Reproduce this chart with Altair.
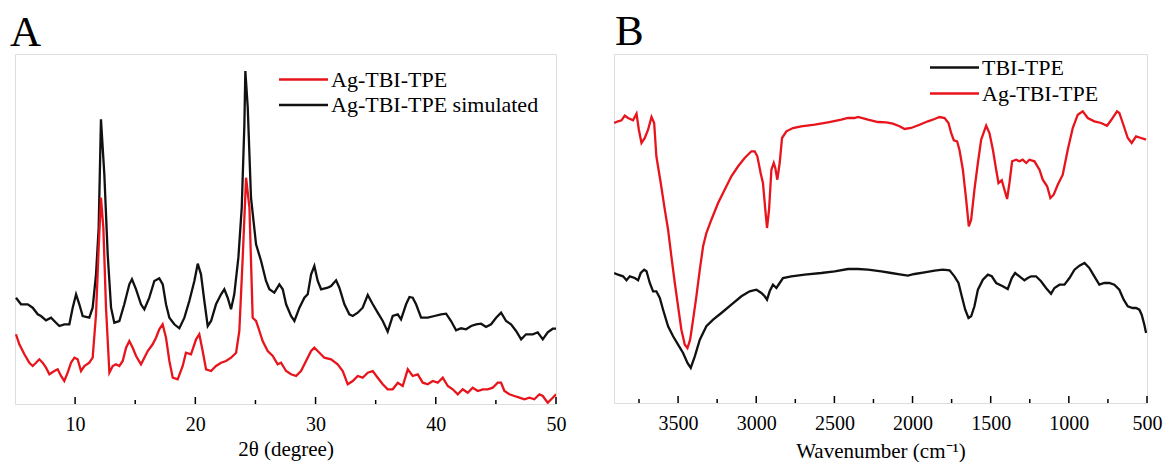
import altair as alt
import pandas as pd

FONT = "Liberation Serif"
RED = "#e8141c"
BLACK = "#111111"

# ---------------- Panel A : XRD ----------------
a_sim_2theta = [5.08, 5.5, 6.06, 6.47, 6.89, 7.16, 7.58, 8.0, 8.41, 8.69, 9.1, 9.52, 9.8, 10.08, 10.35,
                10.63, 11.18, 11.46, 11.74, 11.96, 12.15, 12.43, 12.71, 12.99, 13.26, 13.68, 14.09, 14.51,
                14.73, 15.07, 15.48, 15.76, 16.17, 16.59, 17.0, 17.29, 17.56, 17.84, 18.25, 18.67, 19.09,
                19.5, 19.92, 20.2, 20.47, 20.75, 21.03, 21.31, 21.72, 22.14, 22.41, 22.69, 22.97, 23.24,
                23.58, 23.86, 24.08, 24.16, 24.36, 24.63, 25.05, 25.47, 25.88, 26.16, 26.57, 26.99, 27.27,
                27.55, 27.96, 28.24, 28.66, 29.07, 29.35, 29.63, 29.9, 30.18, 30.46, 31.01, 31.29, 31.71,
                31.98, 32.4, 32.81, 33.09, 33.51, 33.92, 34.34, 34.76, 35.17, 35.59, 36.0, 36.42, 36.84,
                37.11, 37.53, 37.81, 38.08, 38.36, 38.78, 39.33, 39.89, 40.44, 40.86, 41.27, 41.69, 42.1,
                42.52, 42.94, 43.35, 43.77, 44.18, 44.6, 45.02, 45.43, 45.85, 46.26, 46.68, 47.1, 47.51,
                48.07, 48.48, 48.9, 49.31, 49.73, 50.0]
a_sim_int = [106.3, 99.7, 99.7, 96.3, 89.7, 88, 83.7, 86.3, 81.3, 78, 79.7, 79.7, 96.3, 109.7, 99.7,
             88, 86.3, 96.3, 129.7, 176.3, 284.7, 229.7, 149.7, 96.3, 81.3, 83, 99.7, 119.7,
             124.7, 114.7, 99.7, 94.7, 106.3, 123, 125.7, 119.7, 99.7, 86.3, 79.7, 75.7, 86.3,
             103, 123, 140.3, 129.7, 103, 78, 83, 99.7, 109.7, 114.7, 106.3, 94.7, 109.7,
             146.3, 196.3, 279.7, 333, 296.3, 206.3, 159.7, 143, 123, 114.7, 111.3, 119.7, 114.7,
             99.7, 88, 83, 96.3, 106.3, 109.7, 129.7, 138, 123, 114.7, 116.3, 118, 123.7,
             116.3, 99.7, 89.7, 88, 91.3, 96.3, 109, 99.7, 91.3, 83, 72.3, 88, 89.7,
             84.7, 99.7, 107, 106.3, 99.7, 86.3, 86.3, 88, 89.7, 90.3, 83, 73.7, 75.7,
             74.7, 78, 79.7, 80.3, 77, 79.7, 86.3, 91.3, 83, 79.7, 73, 64.7, 69.7,
             69.7, 71.7, 64.7, 71.7, 75.3, 75.3]

a_exp_2theta = [5.08, 5.36, 5.78, 6.19, 6.47, 6.75, 7.02, 7.3, 7.58, 7.86, 8.27, 8.55, 8.83, 9.1, 9.38,
                9.66, 9.94, 10.21, 10.49, 10.77, 11.18, 11.46, 11.74, 11.96, 12.15, 12.35, 12.57, 12.85,
                13.13, 13.4, 13.68, 13.96, 14.24, 14.51, 14.79, 15.07, 15.48, 15.76, 16.04, 16.45, 16.73,
                17.0, 17.28, 17.56, 17.84, 18.12, 18.53, 18.95, 19.22, 19.64, 20.06, 20.33, 20.61, 20.89,
                21.31, 21.72, 22.14, 22.55, 22.97, 23.39, 23.66, 23.94, 24.22, 24.5, 24.77, 25.05, 25.33,
                25.6, 26.02, 26.44, 26.85, 27.13, 27.55, 27.96, 28.38, 28.79, 29.21, 29.63, 29.9, 30.32,
                30.73, 31.29, 31.84, 32.26, 32.68, 33.09, 33.51, 33.92, 34.34, 34.76, 35.17, 35.59, 36.0,
                36.42, 36.84, 37.25, 37.67, 38.08, 38.5, 38.92, 39.33, 39.75, 40.16, 40.58, 41.0, 41.41,
                41.83, 42.24, 42.66, 43.07, 43.49, 43.91, 44.32, 44.74, 45.15, 45.43, 45.71, 46.12, 46.54,
                46.96, 47.37, 47.79, 48.2, 48.62, 48.9, 49.31, 49.73, 50.0]
a_exp_int = [69.7, 59.7, 49.7, 41.3, 38, 41.3, 44.7, 41.3, 36.3, 29.7, 33, 34.7, 28, 23, 31.3,
             41.3, 46.3, 44.7, 33, 38, 41.3, 46.3, 89.7, 156.3, 206.3, 176.3, 96.3, 31.3,
             38, 39.7, 38, 43, 56.3, 63, 56.3, 48, 39.7, 46.3, 53, 59.7, 66.3,
             74.7, 79.7, 66.3, 43, 26.3, 24.7, 38, 51.3, 49.7, 64.7, 69.7, 53, 34.7,
             33, 38, 41.3, 43, 46.3, 51.3, 73, 146.3, 226.3, 196.3, 86.3, 83, 73,
             63, 53, 48, 39.7, 41.3, 33, 29.7, 28, 33, 43, 53, 56.3, 51.3,
             46.3, 44.7, 39.7, 33, 19.7, 23, 28, 26.3, 31.3, 33, 26.3, 19.7, 14.7,
             14.7, 21.3, 18, 34.7, 28, 29.7, 21.3, 19.7, 23, 21.3, 26.3, 18, 14.7,
             9.7, 14.7, 11.3, 16.3, 13, 14.7, 14.7, 16.3, 21.3, 21.3, 13, 9.7, 8,
             6.3, 4.7, 6.3, 4.7, 9.7, 8, 1.3, 6.3, 9.7]

a_series = ["Ag-TBI-TPE", "Ag-TBI-TPE simulated"]
a_major = [10, 20, 30, 40, 50]
a_minor = [15, 25, 35, 45]

# ---------------- Panel B : FTIR ----------------
b_tbi_wn = [3909, 3884, 3852, 3830, 3809, 3777, 3756, 3739, 3717, 3702, 3681, 3660, 3639, 3617, 3596,
            3564, 3532, 3500, 3468, 3440, 3419, 3393, 3361, 3319, 3276, 3223, 3159, 3095, 3042, 2999,
            2967, 2946, 2931, 2914, 2893, 2871, 2850, 2829, 2775, 2690, 2584, 2498, 2413, 2349, 2285,
            2200, 2136, 2072, 2030, 1987, 1923, 1859, 1806, 1763, 1732, 1706, 1685, 1663, 1642, 1625,
            1604, 1582, 1550, 1518, 1493, 1465, 1423, 1391, 1365, 1344, 1316, 1284, 1263, 1241, 1210,
            1178, 1146, 1114, 1092, 1060, 1028, 996, 964, 932, 900, 869, 837, 805, 773, 741,
            709, 677, 649, 623, 592, 570, 549, 534, 517, 506]
b_tbi_T = [130, 128.3, 126.7, 122.7, 126.7, 125, 122.7, 130, 133.3, 131.7, 120, 111.7, 111.7, 105, 93.3,
           76.7, 66.7, 58.3, 50, 40, 35, 46.7, 63.3, 76.7, 83.3, 90, 98.3, 106.7, 111.7, 113.3,
           110, 106.7, 103.3, 111.7, 118.3, 115, 120, 125, 126.7, 128.3, 130, 131.7, 134, 134, 133.3,
           131.7, 130, 128.3, 127.3, 129, 130.7, 132.3, 133.3, 132.7, 126.7, 120, 106.7, 93.3, 85, 86.7,
           96.7, 113.3, 123.3, 128.3, 126.7, 120, 116.7, 114, 125, 130, 126.7, 122.7, 125, 126.7, 126.7,
           121.7, 115, 109.3, 115, 118.3, 118.3, 125, 133.3, 137.3, 140, 135, 126.7, 118.3, 120, 120,
           118.3, 113.3, 103.3, 96.7, 95, 95, 93.3, 88.3, 78.3, 70]

b_ag_wn = [3909, 3884, 3862, 3841, 3820, 3788, 3766, 3751, 3734, 3713, 3692, 3670, 3653, 3639, 3611,
           3585, 3564, 3543, 3521, 3500, 3479, 3457, 3440, 3423, 3404, 3383, 3361, 3340, 3319, 3287,
           3244, 3202, 3159, 3116, 3074, 3031, 3010, 2993, 2972, 2957, 2942, 2931, 2918, 2903, 2888,
           2878, 2865, 2850, 2835, 2807, 2765, 2712, 2626, 2541, 2456, 2413, 2371, 2349, 2285, 2221,
           2168, 2126, 2083, 2051, 2009, 1955, 1902, 1859, 1827, 1795, 1770, 1753, 1736, 1715, 1700,
           1678, 1657, 1640, 1625, 1604, 1582, 1561, 1529, 1508, 1486, 1465, 1450, 1429, 1412, 1395,
           1380, 1363, 1337, 1316, 1295, 1273, 1252, 1220, 1188, 1167, 1139, 1118, 1097, 1071, 1039,
           1007, 975, 943, 911, 879, 837, 794, 756, 730, 692, 677, 655, 623, 598, 570,
           538, 506]
b_ag_T = [280, 281.7, 282.7, 287.3, 285, 282.7, 289.3, 273.3, 260, 265, 273.3, 286, 280, 246.7, 220,
          193.3, 173.3, 146.7, 120, 96.7, 73.3, 58.3, 55, 63.3, 83.3, 106.7, 133.3, 156.7, 170, 183.3,
          200, 213.3, 226.7, 236.7, 245, 251.7, 251.7, 246.7, 230, 220, 193.3, 175, 193.3, 233.3, 240,
          235, 223.3, 240, 265, 271.7, 275, 276.7, 278.3, 280.7, 283.3, 285, 285, 286, 283.3, 281,
          280.7, 279.3, 276.7, 274, 275, 278.3, 281.7, 284, 286, 285, 280, 270, 262.7, 261.7, 253.3,
          233.3, 203.3, 176.7, 183.3, 213.3, 240, 263.3, 277.3, 270, 253.3, 233.3, 220, 222.7, 213.3, 204,
          220, 241.7, 243.3, 241.7, 243.3, 240, 243.3, 241.7, 233.3, 223.3, 216.7, 205, 208.3, 218.3, 228.3,
          253.3, 275, 288.3, 291.7, 285, 281.7, 280, 277.3, 282.7, 291.7, 290, 280, 265, 260, 266.7,
          265, 263.3]

b_series = ["TBI-TPE", "Ag-TBI-TPE"]
b_major = [3500, 3000, 2500, 2000, 1500, 1000, 500]
b_minor = [3750, 3250, 2750, 2250, 1750, 1250, 750]

A_W, A_H = 541, 350
B_W, B_H = 533, 349

dfA = pd.concat([
    pd.DataFrame({"x": a_sim_2theta, "y": a_sim_int, "s": a_series[1]}),
    pd.DataFrame({"x": a_exp_2theta, "y": a_exp_int, "s": a_series[0]}),
], ignore_index=True)
dfB = pd.concat([
    pd.DataFrame({"x": b_tbi_wn, "y": b_tbi_T, "s": b_series[0]}),
    pd.DataFrame({"x": b_ag_wn, "y": b_ag_T, "s": b_series[1]}),
], ignore_index=True)


def panel(df, series, colors, xdomain, ydomain, major, minor, xtitle, title_pad,
          letter, letter_dx, letter_off, W, H, lx, ly, row_pad):
    xscale = alt.Scale(domain=xdomain, nice=False, zero=False)
    lines = alt.Chart(df).mark_line(strokeWidth=2.3, clip=True).encode(
        x=alt.X("x:Q", scale=xscale,
                axis=alt.Axis(values=major, format="d", ticks=False, domain=False, grid=False,
                              labelFont=FONT, labelFontSize=20, labelColor="black",
                              labelPadding=10, labelFlush=False, labelOverlap=False,
                              title=xtitle, titleFont=FONT, titleFontSize=21,
                              titleFontWeight="normal", titleColor="black",
                              titlePadding=title_pad)),
        y=alt.Y("y:Q", scale=alt.Scale(domain=ydomain, nice=False, zero=False), axis=None),
        color=alt.Color("s:N", scale=alt.Scale(domain=series, range=colors),
                        legend=alt.Legend(title=None, orient="none", legendX=lx, legendY=ly,
                                          symbolType="M-2,0H2", symbolSize=600,
                                          symbolStrokeWidth=2.3, labelFont=FONT,
                                          labelFontSize=22, labelColor="black",
                                          labelLimit=400,
                                          labelOffset=14, rowPadding=row_pad, padding=0)),
        detail="s:N",
    )
    major_t = alt.Chart(pd.DataFrame({"x": major})).mark_rule(color="black", strokeWidth=1.5).encode(
        x=alt.X("x:Q", scale=xscale), y=alt.value(H - 7), y2=alt.value(H))
    minor_t = alt.Chart(pd.DataFrame({"x": minor})).mark_rule(color="black", strokeWidth=1.5).encode(
        x=alt.X("x:Q", scale=xscale), y=alt.value(H - 4), y2=alt.value(H))
    return alt.layer(lines, major_t, minor_t).properties(
        width=W, height=H,
        title=alt.TitleParams(text=letter, anchor="start", frame="group", font=FONT,
                              fontSize=43, fontWeight="normal", color="black",
                              baseline="alphabetic", offset=letter_off, dx=letter_dx),
    )


chartA = panel(dfA, a_series, [RED, BLACK], [5, 50], [0, 350], a_major, a_minor,
               "2θ (degree)", 4, "A", -5, -35, A_W, A_H, 275, 12, 0.5)
chartB = panel(dfB, b_series, [BLACK, RED], [3910, 500], [0, 349], b_major, b_minor,
               "Wavenumber (cm⁻¹)", 7, "B", 1, -34, B_W, B_H, 327, 0, 1)

chart = alt.hconcat(chartA, chartB, spacing=58, bounds="flush").resolve_scale(
    color="independent", x="independent", y="independent"
).resolve_legend(color="independent").properties(
    padding={"left": 9, "top": 10, "right": 0, "bottom": 0}
).configure_view(stroke="black", strokeWidth=2).configure(background="white")

chart.save("out.html", embed_options={"renderer": "svg", "actions": False})
